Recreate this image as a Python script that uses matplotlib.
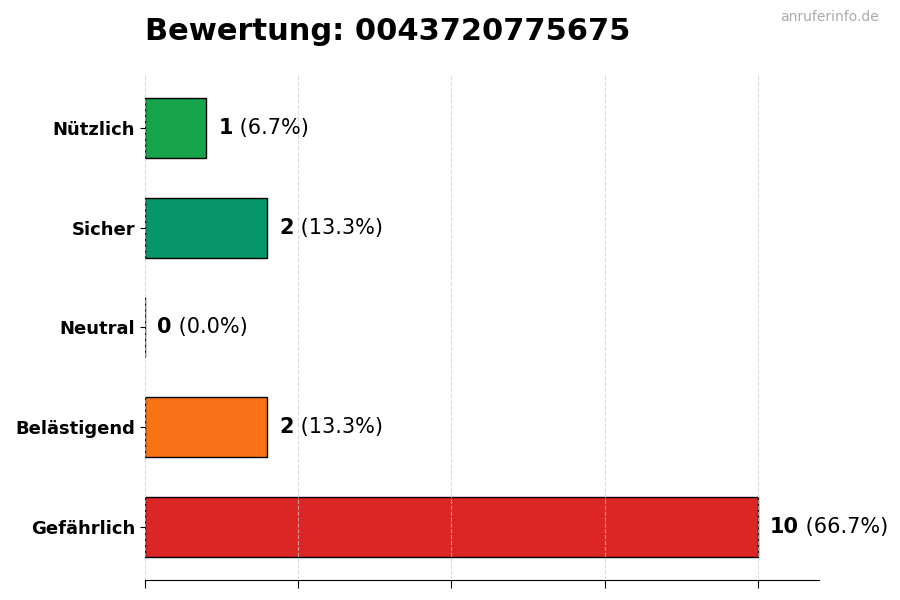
import matplotlib
matplotlib.use("Agg")
import matplotlib.pyplot as plt

categories = ["Nützlich", "Sicher", "Neutral", "Belästigend", "Gefährlich"]
counts = [1, 2, 0, 2, 10]
percent_labels = ["6.7%", "13.3%", "0.0%", "13.3%", "66.7%"]
colors = ["#16a34a", "#059669", "#6b7280", "#f97316", "#dc2626"]
title = "Bewertung: 0043720775675"
watermark = "anruferinfo.de"

fig = plt.figure(figsize=(9, 6), dpi=100)
ax = fig.add_axes([0.161, 0.0333, 0.749, 0.842])

y = list(range(len(categories)))
ax.barh(y, counts, height=0.6, color=colors, edgecolor="black", linewidth=1, zorder=1)
ax.invert_yaxis()
ax.set_yticks(y)
ax.set_yticklabels(categories, fontsize=13, fontweight="bold")
ax.set_xlim(0, 11)
ax.set_xticks([0, 2.5, 5, 7.5, 10])
ax.set_xticklabels([])
ax.tick_params(axis="x", length=6)
ax.grid(axis="x", linestyle="--", color="#cccccc", alpha=0.7, linewidth=0.8, zorder=2)
ax.set_axisbelow(False)
for s in ["top", "right", "left"]:
    ax.spines[s].set_visible(False)

for yi, c, p in zip(y, counts, percent_labels):
    t = ax.text(c + 0.2, yi, str(c), fontsize=15, fontweight="bold", va="center", ha="left")
    ax.annotate(f" ({p})", xy=(1, 0), xycoords=t, va="bottom", ha="left", fontsize=15)

fig.text(0.161, 0.948, title, fontsize=22, fontweight="bold", ha="left", va="center")
fig.text(0.977, 0.971, watermark, fontsize=10, color="#aaaaaa", ha="right", va="center")

fig.savefig("out.png", dpi=100)
